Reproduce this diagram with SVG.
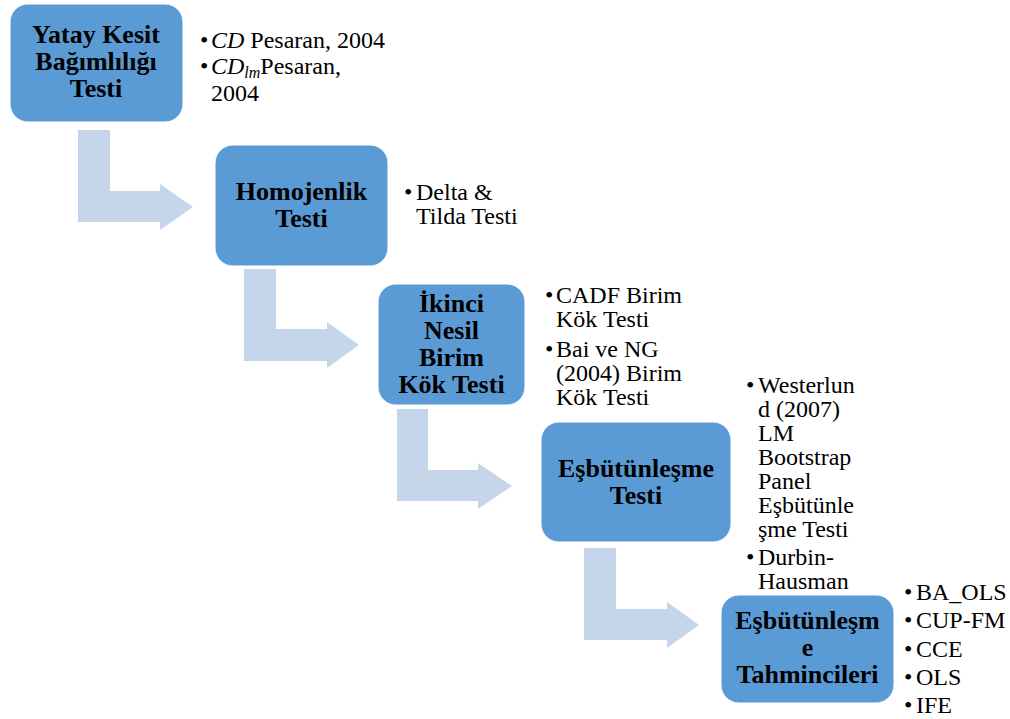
<svg xmlns="http://www.w3.org/2000/svg" width="1010" height="719" viewBox="0 0 1010 719">
<style>
.box{fill:#5b9bd5;stroke:#ffffff;stroke-width:1}
.arr{fill:#c5d5ea}
.t{font-family:'Liberation Serif','Tinos','Times New Roman','DejaVu Serif',serif;font-weight:bold;font-size:26px;fill:#000;text-anchor:middle}
.b{font-family:'Liberation Serif','Tinos','Times New Roman','DejaVu Serif',serif;font-size:24px;fill:#000}
.m{font-style:italic}
</style>
<rect width="1010" height="719" fill="#ffffff"/>
<g id="connectors">
<polygon class="arr" points="78,130 110,130 110,191 160,191 160,184 193,207 160,230 160,222 78,222"/>
<polygon class="arr" points="244,269 276,269 276,329 327,329 327,322 359,345 327,368 327,361 244,361"/>
<polygon class="arr" points="397,409 428,409 428,470 478,470 478,463 512,486 478,509 478,501 397,501"/>
<polygon class="arr" points="584,548 616,548 616,609 667,609 667,602 699,625 667,648 667,640 584,640"/>
</g>
<g id="node1">
<rect class="box" x="10" y="4" width="173" height="118" rx="18"/>
<text class="t" x="96" y="43">Yatay Kesit</text>
<text class="t" x="96" y="70">Bağımlılığı</text>
<text class="t" x="96" y="97">Testi</text>
<text class="b" x="200" y="48">•<tspan class="m" x="211">CD</tspan> Pesaran, 2004</text>
<text class="b" x="200" y="74">•<tspan class="m" x="211">CD</tspan><tspan class="m" font-size="16" dy="4">lm</tspan><tspan dy="-4">Pesaran,</tspan></text>
<text class="b" x="211" y="101">2004</text>
</g>
<g id="node2">
<rect class="box" x="215" y="145" width="173" height="121" rx="18"/>
<text class="t" x="301.5" y="200">Homojenlik</text>
<text class="t" x="301.5" y="227">Testi</text>
<text class="b" x="404" y="200">•<tspan x="416">Delta &amp;</tspan></text>
<text class="b" x="416" y="224">Tilda Testi</text>
</g>
<g id="node3">
<rect class="box" x="378" y="284" width="147" height="121" rx="18"/>
<text class="t" x="451.5" y="312">İkinci</text>
<text class="t" x="451.5" y="339">Nesil</text>
<text class="t" x="451.5" y="366">Birim</text>
<text class="t" x="451.5" y="393">Kök Testi</text>
<text class="b" x="545" y="303">•<tspan x="556">CADF Birim</tspan></text>
<text class="b" x="556" y="327">Kök Testi</text>
<text class="b" x="545" y="357">•<tspan x="556">Bai ve NG</tspan></text>
<text class="b" x="556" y="381">(2004) Birim</text>
<text class="b" x="556" y="405">Kök Testi</text>
</g>
<g id="node4">
<rect class="box" x="541" y="422" width="190" height="120" rx="18"/>
<text class="t" x="636" y="477">Eşbütünleşme</text>
<text class="t" x="636" y="504">Testi</text>
<text class="b" x="746" y="393">•<tspan x="758">Westerlun</tspan></text>
<text class="b" x="758" y="417">d (2007)</text>
<text class="b" x="758" y="441">LM</text>
<text class="b" x="758" y="465">Bootstrap</text>
<text class="b" x="758" y="489">Panel</text>
<text class="b" x="758" y="513">Eşbütünle</text>
<text class="b" x="758" y="537">şme Testi</text>
<text class="b" x="746" y="565">•<tspan x="758">Durbin-</tspan></text>
<text class="b" x="758" y="589">Hausman</text>
</g>
<g id="node5">
<rect class="box" x="721" y="595" width="173" height="108" rx="18"/>
<text class="t" x="807.5" y="629">Eşbütünleşm</text>
<text class="t" x="807.5" y="656">e</text>
<text class="t" x="807.5" y="683">Tahmincileri</text>
<text class="b" x="904" y="600">•<tspan x="916">BA_OLS</tspan></text>
<text class="b" x="904" y="628">•<tspan x="916">CUP-FM</tspan></text>
<text class="b" x="904" y="657">•<tspan x="916">CCE</tspan></text>
<text class="b" x="904" y="685">•<tspan x="916">OLS</tspan></text>
<text class="b" x="904" y="713">•<tspan x="916">IFE</tspan></text>
</g>
</svg>
